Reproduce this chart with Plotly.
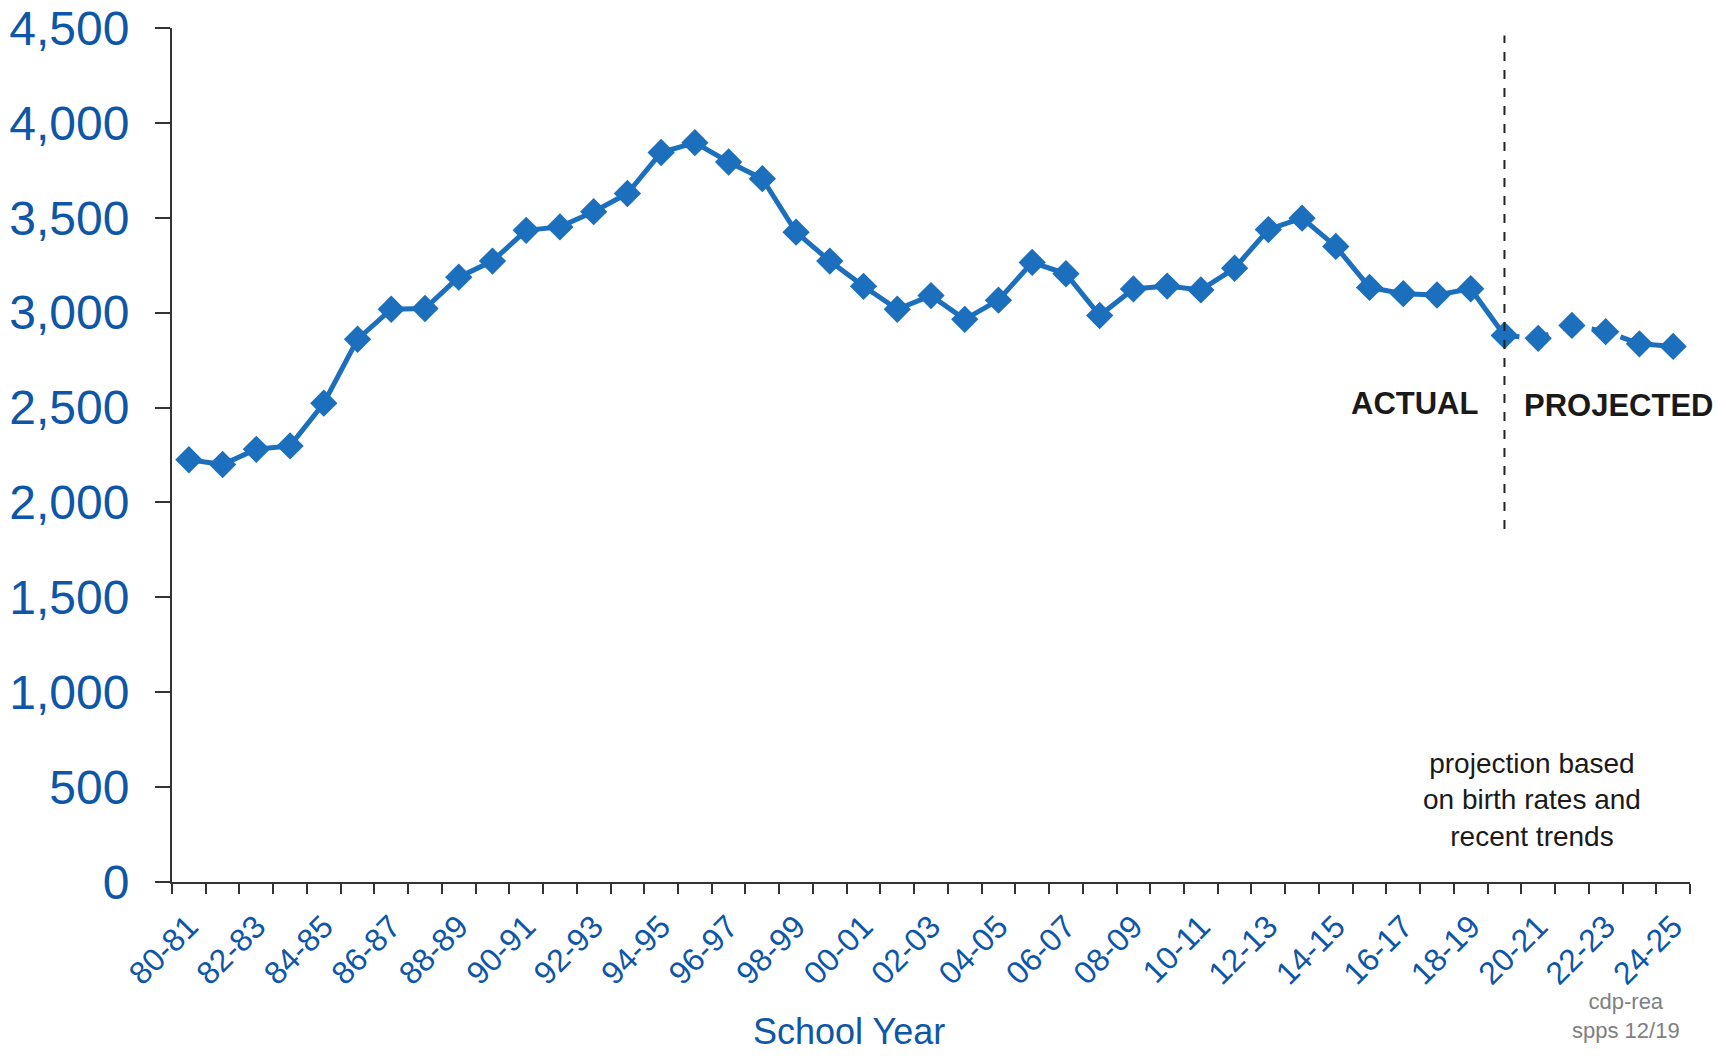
import plotly.graph_objects as go

# School years shown on the x axis
school_years = [
    "80-81", "81-82", "82-83", "83-84", "84-85", "85-86", "86-87", "87-88",
    "88-89", "89-90", "90-91", "91-92", "92-93", "93-94", "94-95", "95-96",
    "96-97", "97-98", "98-99", "99-00", "00-01", "01-02", "02-03", "03-04",
    "04-05", "05-06", "06-07", "07-08", "08-09", "09-10", "10-11", "11-12",
    "12-13", "13-14", "14-15", "15-16", "16-17", "17-18", "18-19", "19-20",
    "20-21", "21-22", "22-23", "23-24", "24-25",
]

# Actual enrollment, 80-81 through 19-20
enrollment_actual = [
    2225, 2200, 2280, 2298, 2523, 2860, 3018, 3022, 3187, 3272,
    3434, 3452, 3532, 3628, 3844, 3896, 3794, 3706, 3424, 3272,
    3139, 3018, 3090, 2965, 3066, 3265, 3205, 2985, 3125, 3140,
    3120, 3234, 3438, 3498, 3349, 3133, 3100, 3093, 3126, 2880,
]

# Projected enrollment, 20-21 through 24-25
enrollment_projected = [2865, 2933, 2900, 2836, 2822]

y_tick_values = [0, 500, 1000, 1500, 2000, 2500, 3000, 3500, 4000, 4500]

BLUE_TEXT = "#0d56a8"
BLUE_LINE = "#1b6fbd"
AXIS = "#333333"
FONT = "Liberation Sans, Arial, sans-serif"

n_actual = len(enrollment_actual)
x_actual = list(range(n_actual))
x_proj = list(range(n_actual - 1, n_actual + len(enrollment_projected)))
y_proj = [enrollment_actual[-1]] + enrollment_projected
split_x = n_actual - 1

fig = go.Figure()
fig.add_trace(go.Scatter(
    x=x_actual, y=enrollment_actual, mode="lines+markers",
    line=dict(color=BLUE_LINE, width=5),
    marker=dict(symbol="diamond", size=21, color=BLUE_LINE),
    hoverinfo="skip", showlegend=False,
))
fig.add_trace(go.Scatter(
    x=x_proj, y=y_proj, mode="lines+markers",
    line=dict(color=BLUE_LINE, width=5, dash="dash"),
    marker=dict(symbol="diamond", size=21, color=BLUE_LINE),
    hoverinfo="skip", showlegend=False,
))

# Divider between actual and projected years
fig.add_shape(
    type="line", xref="x", yref="y",
    x0=split_x, x1=split_x, y0=1860, y1=4460,
    line=dict(color="#222222", width=2, dash="dash"),
)

label_idx = list(range(0, len(school_years), 2))
boundaries = [i - 0.5 for i in range(len(school_years) + 1)]

fig.update_layout(
    width=1718, height=1056,
    margin=dict(l=172, r=28, t=28, b=174, autoexpand=False),
    paper_bgcolor="white", plot_bgcolor="white",
    font=dict(family=FONT),
    xaxis=dict(
        range=[-0.5, len(school_years) - 0.5],
        automargin=False,
        tickmode="array",
        tickvals=label_idx,
        ticktext=[school_years[i] for i in label_idx],
        tickangle=-45,
        ticks="",
        ticklabelstandoff=11,
        tickfont=dict(size=32, color=BLUE_TEXT, family=FONT),
        showline=True, linecolor=AXIS, linewidth=2,
        showgrid=False, zeroline=False,
        minor=dict(
            tickmode="array", tickvals=boundaries,
            ticks="outside", ticklen=10, tickwidth=2, tickcolor=AXIS,
            showgrid=False,
        ),
    ),
    yaxis=dict(
        range=[0, 4500],
        automargin=False,
        tickmode="array",
        tickvals=y_tick_values,
        tickformat=",d",
        ticks="outside", ticklen=15, tickwidth=2, tickcolor=AXIS,
        ticklabelstandoff=16,
        tickfont=dict(size=48, color=BLUE_TEXT, family=FONT),
        showline=True, linecolor=AXIS, linewidth=2,
        showgrid=False, zeroline=False,
    ),
    annotations=[
        dict(text="School Year", xref="paper", yref="paper",
             x=0.446, y=-0.1756, xanchor="center", yanchor="middle",
             showarrow=False, font=dict(size=36, color=BLUE_TEXT, family=FONT)),
        dict(text="<b>ACTUAL</b>", xref="x", yref="y",
             x=split_x, y=2520, xanchor="right", yanchor="middle", xshift=-24,
             showarrow=False, font=dict(size=31, color="#1a1a1a", family=FONT)),
        dict(text="<b>PROJECTED</b>", xref="x", yref="y",
             x=split_x, y=2510, xanchor="left", yanchor="middle", xshift=18,
             showarrow=False, font=dict(size=31, color="#1a1a1a", family=FONT)),
        dict(text="projection based<br>on birth rates and<br>recent trends",
             xref="paper", yref="paper", x=0.896, y=0.096,
             xanchor="center", yanchor="middle", align="center",
             showarrow=False, font=dict(size=28, color="#1a1a1a", family=FONT)),
        dict(text="cdp-rea<br>spps 12/19",
             xref="paper", yref="paper", x=0.958, y=-0.157,
             xanchor="center", yanchor="middle", align="center",
             showarrow=False, font=dict(size=22, color="#808080", family=FONT)),
    ],
)

fig.write_html("out.html")
